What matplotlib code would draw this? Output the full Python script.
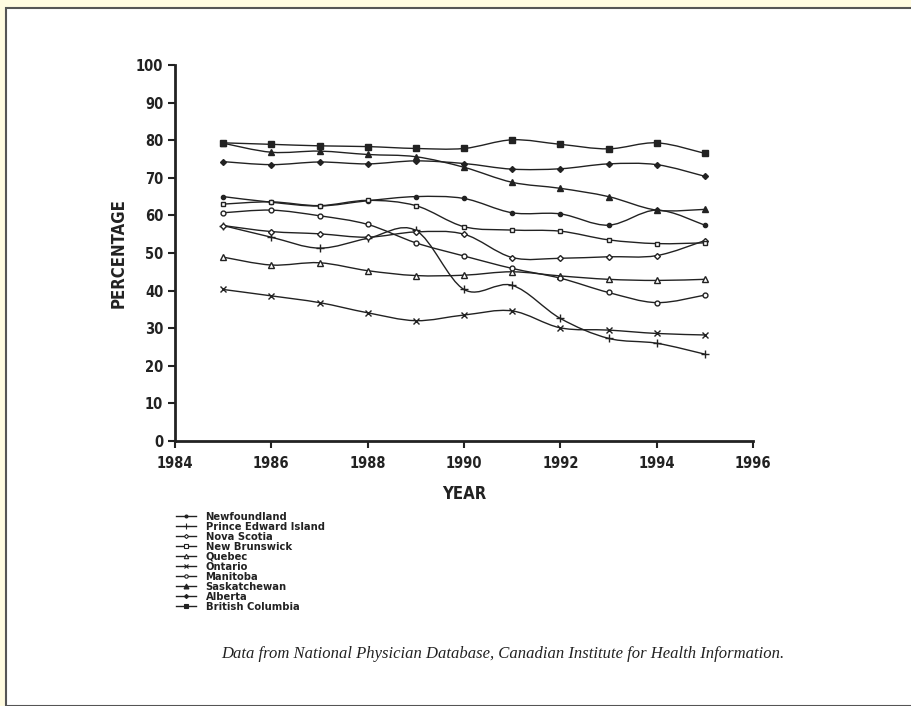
import matplotlib
matplotlib.use("Agg")
import matplotlib.pyplot as plt
import numpy as np
from matplotlib.path import Path
from matplotlib.patches import PathPatch, Rectangle
from matplotlib.lines import Line2D

years = [1985, 1986, 1987, 1988, 1989, 1990, 1991, 1992, 1993, 1994, 1995]

newfoundland = [65.0, 63.5, 62.5, 63.9, 65.0, 64.5, 60.7, 60.4, 57.4, 61.4, 57.4]
pei = [57.3, 54.2, 51.3, 53.9, 56.0, 40.3, 41.4, 32.6, 27.3, 26.0, 23.1]
nova_scotia = [57.3, 55.7, 55.1, 54.2, 55.6, 55.0, 48.8, 48.6, 49.0, 49.3, 53.3]
new_brunswick = [63.0, 63.6, 62.6, 64.0, 62.6, 57.0, 56.1, 55.8, 53.5, 52.5, 52.7]
quebec = [48.9, 46.8, 47.4, 45.3, 44.0, 44.1, 45.0, 43.9, 43.0, 42.7, 43.0]
ontario = [40.3, 38.6, 36.8, 34.1, 32.0, 33.5, 34.6, 30.1, 29.5, 28.6, 28.2]
manitoba = [60.7, 61.4, 59.9, 57.6, 52.7, 49.2, 45.9, 43.3, 39.5, 36.8, 38.8]
saskatchewan = [79.2, 76.8, 77.1, 76.2, 75.6, 72.8, 68.8, 67.2, 65.0, 61.4, 61.6]
alberta = [74.3, 73.5, 74.2, 73.7, 74.5, 73.8, 72.3, 72.4, 73.7, 73.5, 70.4]
british_columbia = [79.3, 78.9, 78.5, 78.3, 77.8, 77.8, 80.1, 78.9, 77.7, 79.3, 76.5]

names = ["Newfoundland", "Prince Edward Island", "Nova Scotia", "New Brunswick",
         "Quebec", "Ontario", "Manitoba", "Saskatchewan", "Alberta", "British Columbia"]
series = [newfoundland, pei, nova_scotia, new_brunswick, quebec, ontario,
          manitoba, saskatchewan, alberta, british_columbia]
# marker, size, filled
styles = [("o", 3, True), ("+", 5.5, True), ("D", 3, False), ("s", 3.5, False),
          ("^", 4.5, False), ("x", 4.5, True), ("o", 3.5, False), ("^", 5, True),
          ("D", 3, True), ("s", 4.5, True)]

ink = "#222222"
font = dict(family="DejaVu Sans", stretch="condensed", weight="bold")


def smooth_path(xs, ys):
    # Catmull-Rom curve through the points, as cubic Bezier segments
    pts = np.column_stack([np.asarray(xs, float), np.asarray(ys, float)])
    verts = [pts[0]]
    codes = [Path.MOVETO]
    n = len(pts)
    for i in range(n - 1):
        p0 = pts[i - 1] if i > 0 else pts[i]
        p1 = pts[i]
        p2 = pts[i + 1]
        p3 = pts[i + 2] if i + 2 < n else pts[i + 1]
        verts += [p1 + (p2 - p0) / 6.0, p2 - (p3 - p1) / 6.0, p2]
        codes += [Path.CURVE4] * 3
    return Path(verts, codes)


fig = plt.figure(figsize=(9.11, 7.06), dpi=100)
fig.patch.set_facecolor("#fffbe0")
fig.patches.append(Rectangle((6 / 911, 0), 1, 1 - 8 / 706, transform=fig.transFigure,
                             facecolor="white", edgecolor="#555555", linewidth=1.5,
                             zorder=-5))

ax = fig.add_axes([175 / 911, 1 - 441 / 706, 578 / 911, 376 / 706])
ax.set_facecolor("none")

handles = []
for name, vals, (mk, ms, filled) in zip(names, series, styles):
    ax.add_patch(PathPatch(smooth_path(years, vals), facecolor="none",
                           edgecolor=ink, linewidth=1.0))
    fc = ink if filled else "white"
    ax.plot(years, vals, linestyle="none", marker=mk, markersize=ms,
            markerfacecolor=fc, markeredgecolor=ink, markeredgewidth=1.0)
    handles.append(Line2D([], [], color=ink, linewidth=1.0, marker=mk,
                          markersize=ms * 0.7, markerfacecolor=fc,
                          markeredgecolor=ink, markeredgewidth=0.8))

ax.set_xlim(1984, 1996)
ax.set_ylim(0, 100)
ax.set_xticks(range(1984, 1997, 2))
ax.set_yticks(range(0, 101, 10))
for s in ["top", "right"]:
    ax.spines[s].set_visible(False)
for s in ["left", "bottom"]:
    ax.spines[s].set_linewidth(2)
    ax.spines[s].set_color(ink)
ax.tick_params(direction="out", length=5, width=1.5, color=ink)
ax.tick_params(axis="x", pad=6)
for lab in ax.get_xticklabels() + ax.get_yticklabels():
    lab.set_fontproperties(dict(font, size=10.5))
    lab.set_color(ink)

ax.set_ylabel("PERCENTAGE", fontdict=dict(font, size=12), color=ink, labelpad=6)
ax.set_xlabel("YEAR", fontdict=dict(font, size=12), color=ink, labelpad=10)

leg = fig.legend(handles, names, loc="upper left",
                 bbox_to_anchor=(170 / 911, 1 - 506 / 706),
                 frameon=False, handlelength=1.8, handletextpad=0.9,
                 labelspacing=0.0, borderpad=0,
                 prop=dict(font, size=8))
for t in leg.get_texts():
    t.set_color(ink)

fig.text(503 / 911, 1 - 654 / 706,
         "Data from National Physician Database, Canadian Institute for Health Information.",
         ha="center", va="center", fontfamily=["Liberation Serif", "DejaVu Serif"],
         style="italic", fontsize=12, color=ink)

fig.savefig("out.png", dpi=100, facecolor=fig.get_facecolor())
